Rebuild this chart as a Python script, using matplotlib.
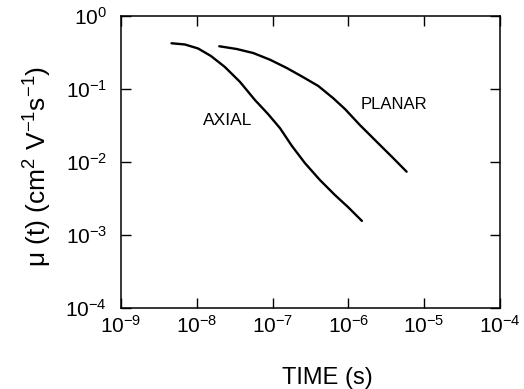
import matplotlib
matplotlib.use('Agg')
import matplotlib.pyplot as plt

# mobility vs time (t in s, mu in cm^2/Vs)
axial_t = [4.64e-9, 6.98e-9, 1.04e-8, 1.54e-8, 2.35e-8, 3.72e-8, 5.86e-8,
           8.7e-8, 1.25e-7, 1.8e-7, 2.67e-7, 4.22e-7, 6.65e-7, 9.88e-7, 1.51e-6]
axial_mu = [0.423, 0.407, 0.359, 0.283, 0.200, 0.125, 0.0706,
            0.0455, 0.0292, 0.0166, 0.00968, 0.00566, 0.00353, 0.00242, 0.00156]

planar_t = [1.98e-8, 3.36e-8, 5.56e-8, 9.24e-8, 1.54e-7, 2.54e-7, 4.01e-7,
            6.27e-7, 9.02e-7, 1.42e-6, 2.36e-6, 3.91e-6, 5.88e-6]
planar_mu = [0.385, 0.353, 0.311, 0.252, 0.194, 0.145, 0.110,
             0.0753, 0.0532, 0.0321, 0.0190, 0.0113, 0.00736]

x_ticks = [1e-9, 1e-8, 1e-7, 1e-6, 1e-5, 1e-4]
x_labels = ['$10^{-9}$', '$10^{-8}$', '$10^{-7}$', '$10^{-6}$', '$10^{-5}$', '$10^{-4}$']
y_ticks = [1e-4, 1e-3, 1e-2, 1e-1, 1e0]
y_labels = ['$10^{-4}$', '$10^{-3}$', '$10^{-2}$', '$10^{-1}$', '$10^{0}$']

plt.rcParams['font.family'] = ['Liberation Sans', 'DejaVu Sans']
plt.rcParams['mathtext.default'] = 'regular'

fig = plt.figure(figsize=(5.24, 3.89), dpi=100)
ax = fig.add_axes([0.2309, 0.2082, 0.7231, 0.7507])

ax.plot(axial_t, axial_mu, color='black', lw=1.7, solid_capstyle='round')
ax.plot(planar_t, planar_mu, color='black', lw=1.7, solid_capstyle='round')

ax.set_xscale('log')
ax.set_yscale('log')
ax.set_xlim(1e-9, 1e-4)
ax.set_ylim(1e-4, 1e0)

ax.set_xticks(x_ticks)
ax.set_xticklabels(x_labels)
ax.set_yticks(y_ticks)
ax.set_yticklabels(y_labels)
ax.minorticks_off()

ax.tick_params(which='major', direction='in', length=7, width=1.0,
               top=True, right=True, labelsize=15, pad=5)
ax.tick_params(axis='y', pad=10)
for s in ax.spines.values():
    s.set_linewidth(1.1)

ax.text(2.58e-8, 0.0376, 'AXIAL', fontsize=12.5, ha='center', va='center')
ax.text(4.0e-6, 0.0604, 'PLANAR', fontsize=12, ha='center', va='center')

ax.set_xlabel('TIME (s)', fontsize=17, va='center')
ax.xaxis.set_label_coords(0.5435, -0.240)
ax.set_ylabel('μ (t) (cm$^{2}$ V$^{-1}$s$^{-1}$)', fontsize=19, va='center')
ax.yaxis.set_label_coords(-0.219, 0.486)

fig.savefig('out.png', dpi=100)
